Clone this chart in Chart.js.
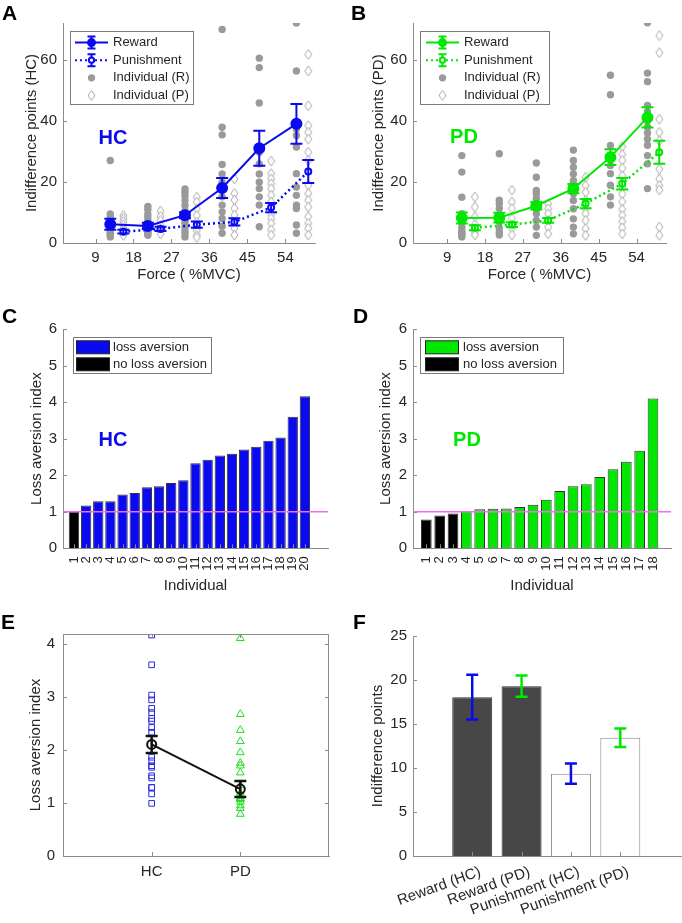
<!DOCTYPE html>
<html>
<head>
<meta charset="utf-8">
<script src="https://cdn.jsdelivr.net/npm/chart.js@4/dist/chart.umd.min.js"></script>
<style>
  body { margin: 0; background: #fff; }
  #fig { position: relative; width: 682px; height: 923px; overflow: hidden; }
  canvas { position: absolute; }
  .tag { position: absolute; font: bold 21px "Liberation Sans", Arial, sans-serif; line-height: 21px; color: #000; }
</style>
</head>
<body>
<div id="fig">
  <canvas id="cA" width="341" height="290" style="left:0;top:0"></canvas>
  <canvas id="cB" width="341" height="290" style="left:341px;top:0"></canvas>
  <canvas id="cC" width="341" height="310" style="left:0;top:290px"></canvas>
  <canvas id="cD" width="341" height="310" style="left:341px;top:290px"></canvas>
  <canvas id="cE" width="341" height="323" style="left:0;top:600px"></canvas>
  <canvas id="cF" width="341" height="323" style="left:341px;top:600px"></canvas>
  <div class="tag" style="left:2px;top:2px">A</div>
  <div class="tag" style="left:351px;top:2px">B</div>
  <div class="tag" style="left:2px;top:305px">C</div>
  <div class="tag" style="left:353px;top:305px">D</div>
  <div class="tag" style="left:1px;top:611px">E</div>
  <div class="tag" style="left:353px;top:611px">F</div>
</div>
<script>
// ---- data ----
const forceTicks = [9, 18, 27, 36, 45, 54];
const rewX = [12.5, 21.4, 30.2, 39.0, 47.8, 56.6];
const punX = [15.6, 24.4, 33.0, 41.9, 50.6, 59.4];

// panel A (HC)
const hcRewMean = [6.1, 5.6, 9.1, 18.0, 31.0, 39.0];
const hcRewErr  = [1.8, 1.0, 1.0, 3.3, 5.7, 6.5];
const hcPunMean = [3.7, 4.6, 6.0, 6.9, 11.6, 23.4];
const hcPunErr  = [0.6, 0.7, 1.0, 1.2, 1.5, 3.8];
const hcRewInd = [
  [27, 9.5, 8.5, 7.5, 7, 6.5, 6, 5.5, 5, 4.5, 4, 3.5, 3, 2.5, 2],
  [12, 11, 9.5, 8.5, 7.5, 6.5, 5.5, 5, 4.5, 4, 3.5, 3, 2.5],
  [17.7, 16.6, 15.5, 13.9, 12.3, 10.6, 9, 7.4, 6.5, 5.2, 4, 3, 2],
  [69.9, 37.9, 35.4, 25.7, 22.6, 19.9, 18.3, 15.1, 12.4, 10.2, 8, 5.5, 3.2],
  [60.5, 57.4, 45.8, 29.7, 25.9, 22.6, 19.9, 17.8, 15.1, 12.4, 5.3],
  [72, 56.3, 37.3, 35.2, 31.4, 22.7, 18.3, 15.6, 12.4, 11.3, 5.9, 3.2]
];
const hcPunInd = [
  [9, 8, 7, 6, 5, 4.5, 4, 3.5, 3, 2.5],
  [10.4, 8.7, 7.4, 5.8, 4.6, 4.1, 3],
  [15, 13.4, 11.2, 9, 6.8, 5, 4.1, 2.5, 1.8],
  [21, 16.2, 14.1, 11.3, 9.1, 6.9, 4.8, 2.6],
  [26.8, 22.7, 21, 19.4, 17.8, 15.6, 13.4, 11.6, 9.5, 8, 6.4, 4.3, 2.6],
  [61.7, 56.3, 44.9, 38.4, 36.2, 34, 29.7, 27, 18.9, 16.2, 14, 11.8, 8.6, 6.4, 4.8, 2.6]
];

// panel B (PD)
const pdRewMean = [8.2, 8.3, 12.2, 17.8, 28.1, 41.1];
const pdRewErr  = [1.8, 1.6, 1.2, 1.5, 2.6, 3.3];
const pdPunMean = [5.0, 6.0, 7.4, 12.9, 19.4, 29.7];
const pdPunErr  = [0.8, 0.8, 0.8, 1.5, 1.9, 3.8];
const pdRewInd = [
  [28.6, 23.2, 15, 9.6, 7.9, 6.8, 5.2, 4.1, 3.5, 3, 2.5, 2],
  [29.2, 14, 12.9, 11.3, 9.1, 6.9, 4.8, 3.5, 2.6],
  [26.2, 21.5, 17.2, 16.1, 14.5, 12.8, 11.2, 9.6, 7.4, 5.2, 2.5],
  [30.4, 27, 24.8, 22.6, 20.4, 18.3, 16.1, 13.9, 11.2, 7.9, 5.2, 3],
  [54.9, 48.5, 31.9, 28.6, 25.4, 22.7, 18.9, 15.1, 12.4],
  [72.1, 55.6, 52.8, 45, 43, 40, 38, 36, 34, 32, 28.6, 25.9, 17.8]
];
const pdPunInd = [
  [15.1, 11.8, 8.6, 6, 4.2, 3.5, 2.6],
  [17.3, 13.4, 11.3, 8, 6, 4.8, 2.6],
  [12.8, 11.2, 9.6, 7.4, 5.2, 3],
  [21.5, 18.8, 16.6, 13.9, 11.2, 9.6, 7.4, 4.7, 2.5],
  [31.5, 29, 27, 24.5, 22, 20, 18, 16, 13.5, 11, 9, 7, 5, 3],
  [67.9, 62.3, 40.5, 36.2, 33.5, 24.2, 21, 18.8, 17.4, 5.2, 2.5]
];

// panels C/D: loss aversion index per individual (sorted)
const hcLai = [0.99, 1.17, 1.29, 1.29, 1.47, 1.51, 1.67, 1.70, 1.79, 1.86,
               2.33, 2.42, 2.54, 2.59, 2.70, 2.78, 2.94, 3.03, 3.60, 4.16];
const pdLai = [0.79, 0.90, 0.95, 1.02, 1.07, 1.08, 1.09, 1.13, 1.19,
               1.33, 1.57, 1.70, 1.75, 1.95, 2.16, 2.37, 2.67, 4.10];
const laiTicks = [0, 1, 2, 3, 4, 5, 6];

// panel E
const eGroups = ['HC', 'PD'];
const eMean = [2.1, 1.26];
const eErr = [0.16, 0.15];
const eTicks = [0, 1, 2, 3, 4];

// panel F
const fLabels = ['Reward (HC)', 'Reward (PD)', 'Punishment (HC)', 'Punishment (PD)'];
const fMean = [18.05, 19.3, 9.35, 13.45];
const fErr = [2.55, 1.2, 1.15, 1.05];
const fTicks = [0, 5, 10, 15, 20, 25];

// ---- styling ----
const BLUE = '#0a0af0', GREEN = '#00e800', GRAY = '#9a9a9a', AXIS = '#8c8c8c', TXT = '#262626';
Chart.defaults.font.family = '"Liberation Sans", Arial, sans-serif';
Chart.defaults.font.size = 15;
Chart.defaults.color = TXT;
Chart.defaults.animation = false;
Chart.defaults.responsive = false;
Chart.defaults.plugins.legend.display = false;
Chart.defaults.plugins.tooltip.enabled = false;

// narrow open diamond used as point style (matlab 'd' marker)
function diamondMarker(w, h) {
  const c = document.createElement('canvas');
  c.width = w + 2; c.height = h + 2;
  const g = c.getContext('2d');
  const cx = c.width / 2, cy = c.height / 2;
  g.beginPath();
  g.moveTo(cx, 1); g.lineTo(cx + w / 2, cy); g.lineTo(cx, cy + h / 2); g.lineTo(cx - w / 2, cy); g.closePath();
  g.fillStyle = '#fff'; g.fill();
  g.strokeStyle = '#a8a8a8'; g.lineWidth = 1; g.stroke();
  return c;
}
const DIAMOND = diamondMarker(7, 10);

// error bars from dataset.errors
const errorBars = {
  id: 'errorBars',
  afterDatasetsDraw(chart) {
    const ctx = chart.ctx;
    chart.data.datasets.forEach((ds, i) => {
      if (!ds.errors) return;
      const meta = chart.getDatasetMeta(i);
      const ys = chart.scales[meta.yAxisID];
      meta.data.forEach((el, j) => {
        const d = ds.data[j];
        const v = typeof d === 'object' ? d.y : d;
        const e = ds.errors[j];
        const top = ys.getPixelForValue(v + e), bot = ys.getPixelForValue(v - e);
        const c = ds.capWidth / 2;
        ctx.save();
        ctx.strokeStyle = Array.isArray(ds.errorColor) ? ds.errorColor[j] : ds.errorColor;
        ctx.lineWidth = ds.errorWidth;
        ctx.beginPath();
        ctx.moveTo(el.x, top); ctx.lineTo(el.x, bot);
        ctx.moveTo(el.x - c, top); ctx.lineTo(el.x + c, top);
        ctx.moveTo(el.x - c, bot); ctx.lineTo(el.x + c, bot);
        ctx.stroke();
        ctx.restore();
      });
    });
  }
};

// inward matlab-like ticks, optional box
const matAxes = {
  id: 'matAxes',
  afterDatasetsDraw(chart, args, opts) {
    const ctx = chart.ctx, a = chart.chartArea, L = 4;
    const xs = chart.scales.x, ys = chart.scales.y;
    ctx.save();
    ctx.strokeStyle = AXIS; ctx.lineWidth = 1;
    ctx.beginPath();
    xs.ticks.forEach(t => {
      const p = Math.round(xs.getPixelForValue(t.value)) + 0.5;
      ctx.moveTo(p, a.bottom); ctx.lineTo(p, a.bottom - L);
      if (opts.box) { ctx.moveTo(p, a.top); ctx.lineTo(p, a.top + L); }
    });
    ys.ticks.forEach(t => {
      const p = Math.round(ys.getPixelForValue(t.value)) + 0.5;
      ctx.moveTo(a.left, p); ctx.lineTo(a.left + L, p);
      if (opts.box) { ctx.moveTo(a.right, p); ctx.lineTo(a.right - L, p); }
    });
    if (opts.box) {
      ctx.moveTo(a.left, a.top + 0.5); ctx.lineTo(a.right, a.top + 0.5);
      ctx.moveTo(a.right - 0.5, a.top); ctx.lineTo(a.right - 0.5, a.bottom);
    }
    ctx.stroke();
    ctx.restore();
  }
};

// boxed legend + in-plot label
const annot = {
  id: 'annot',
  afterDraw(chart, args, opts) {
    const ctx = chart.ctx;
    ctx.save();
    if (opts.note) {
      ctx.font = 'bold 20px "Liberation Sans", Arial, sans-serif';
      ctx.fillStyle = opts.note.color;
      ctx.textAlign = 'center'; ctx.textBaseline = 'middle';
      ctx.fillText(opts.note.text, opts.note.x, opts.note.y);
    }
    const lg = opts.legend;
    if (lg) {
      const [bx, by, bw, bh] = lg.box;
      ctx.fillStyle = '#fff'; ctx.fillRect(bx, by, bw, bh);
      ctx.strokeStyle = '#7a7a7a'; ctx.lineWidth = 1;
      ctx.strokeRect(bx + 0.5, by + 0.5, bw, bh);
      ctx.font = '13px "Liberation Sans", Arial, sans-serif';
      ctx.textBaseline = 'middle'; ctx.textAlign = 'left';
      lg.items.forEach((it, i) => {
        const y = by + lg.rowTop + i * lg.rowGap;
        const x0 = bx + lg.iconX, x1 = x0 + lg.iconW, xm = (x0 + x1) / 2;
        ctx.save();
        if (it.kind === 'line') {
          ctx.strokeStyle = it.color; ctx.lineWidth = 2;
          ctx.setLineDash(it.dash || []);
          ctx.beginPath(); ctx.moveTo(x0, y); ctx.lineTo(x1, y); ctx.stroke();
          ctx.setLineDash([]);
          ctx.beginPath();
          ctx.moveTo(xm, y - 6); ctx.lineTo(xm, y + 6);
          ctx.moveTo(xm - 4, y - 6); ctx.lineTo(xm + 4, y - 6);
          ctx.moveTo(xm - 4, y + 6); ctx.lineTo(xm + 4, y + 6);
          ctx.stroke();
          ctx.beginPath(); ctx.arc(xm, y, it.open ? 2.6 : 4.5, 0, Math.PI * 2);
          ctx.fillStyle = it.open ? '#fff' : it.color; ctx.fill();
          if (it.open) ctx.stroke();
        } else if (it.kind === 'dot') {
          ctx.fillStyle = GRAY;
          ctx.beginPath(); ctx.arc(xm, y, 3.6, 0, Math.PI * 2); ctx.fill();
        } else if (it.kind === 'diamond') {
          ctx.drawImage(DIAMOND, xm - DIAMOND.width / 2, y - DIAMOND.height / 2);
        } else if (it.kind === 'swatch') {
          ctx.fillStyle = it.color; ctx.fillRect(x0, y - 6.5, lg.iconW, 13);
          ctx.strokeStyle = '#222'; ctx.strokeRect(x0 + 0.5, y - 6.5, lg.iconW, 13);
        }
        ctx.restore();
        ctx.fillStyle = TXT;
        ctx.fillText(it.text, bx + lg.textX, y);
      });
    }
    ctx.restore();
  }
};
Chart.register(errorBars, matAxes, annot);

function axis(min, max, tickVals, fit, o) {
  return {
    type: 'linear', min: min, max: max, offset: false,
    grid: { display: false, drawTicks: false, offset: false },
    border: { display: true, color: AXIS, width: 1 },
    ticks: Object.assign({ padding: 6, autoSkip: false, color: TXT, font: { size: 15 } }, o.ticks || {}),
    title: o.title ? { display: true, text: o.title, color: TXT, font: { size: 15 }, padding: o.titlePad } : { display: false },
    afterBuildTicks: s => { s.ticks = tickVals.map(v => ({ value: v })); },
    afterFit: s => { if (s.isHorizontal()) s.height = fit; else s.width = fit; }
  };
}

function pts(xs, groups) {
  const out = [];
  groups.forEach((g, i) => g.forEach(v => out.push({ x: xs[i], y: v })));
  return out;
}
function xy(xs, ys) { return ys.map((v, i) => ({ x: xs[i], y: v })); }

// ---- A & B: indifference points vs force ----
function forcePanel(id, color, rM, rE, pM, pE, rInd, pInd, cfg) {
  new Chart(document.getElementById(id), {
    type: 'scatter',
    data: { datasets: [
      { data: xy(rewX, rM), showLine: true, borderColor: color, borderWidth: 2,
        pointRadius: 5, pointBackgroundColor: color, pointBorderColor: color,
        errors: rE, errorColor: color, errorWidth: 2, capWidth: 12 },
      { data: xy(punX, pM), showLine: true, borderColor: color, borderWidth: 2.5, borderDash: [2, 3],
        pointRadius: 3, pointBackgroundColor: '#fff', pointBorderColor: color, pointBorderWidth: 2,
        errors: pE, errorColor: color, errorWidth: 2, capWidth: 12 },
      { data: pts(rewX, rInd), pointRadius: 3.7, pointBackgroundColor: GRAY, pointBorderColor: GRAY, pointBorderWidth: 0 },
      { data: pts(punX, pInd), pointStyle: DIAMOND, pointRadius: 5 }
    ] },
    options: {
      layout: { padding: { top: 23, right: cfg.right, bottom: 0, left: 0 } },
      scales: {
        x: axis(cfg.xmin, 61, forceTicks, 47, { title: 'Force ( %MVC)', titlePad: { bottom: 6 } }),
        y: axis(0, 72, [0, 20, 40, 60], cfg.yw, { title: cfg.ytitle, titlePad: { top: cfg.tpad } })
      },
      plugins: {
        matAxes: {},
        annot: {
          note: cfg.note,
          legend: { box: cfg.lbox, rowTop: 11.6, rowGap: 17.6, iconX: cfg.iconX, iconW: 33, textX: cfg.textX,
            items: [
              { kind: 'line', color: color, text: 'Reward' },
              { kind: 'line', color: color, dash: [2, 3], open: true, text: 'Punishment' },
              { kind: 'dot', text: 'Individual (R)' },
              { kind: 'diamond', text: 'Individual (P)' }
            ] }
        }
      }
    }
  });
}

forcePanel('cA', BLUE, hcRewMean, hcRewErr, hcPunMean, hcPunErr, hcRewInd, hcPunInd, {
  right: 26, xmin: 1.3, yw: 63, tpad: 23, ytitle: 'Indifference points (HC)',
  note: { text: 'HC', color: BLUE, x: 113, y: 138 },
  lbox: [70, 31, 123, 73], iconX: 5, textX: 43
});
forcePanel('cB', GREEN, pdRewMean, pdRewErr, pdPunMean, pdPunErr, pdRewInd, pdPunInd, {
  right: 16, xmin: 0.9, yw: 72, tpad: 29, ytitle: 'Indifference points (PD)',
  note: { text: 'PD', color: GREEN, x: 123, y: 137 },
  lbox: [79, 31, 129, 73], iconX: 6, textX: 44
});

// ---- C & D: loss aversion index per individual ----
function laiPanel(id, color, vals, cfg) {
  const xs = vals.map((v, i) => i + 1);
  new Chart(document.getElementById(id), {
    type: 'bar',
    data: { datasets: [
      { type: 'line', data: [{ x: cfg.xmin, y: 1 }, { x: cfg.xmax, y: 1 }], borderColor: '#f070f0',
        borderWidth: 1.5, pointRadius: 0 },
      { data: xy(xs, vals), backgroundColor: vals.map(v => v < 1 ? '#000' : color),
        borderColor: '#333', borderWidth: 1, barPercentage: cfg.bp, categoryPercentage: 1 }
    ] },
    options: {
      layout: { padding: { top: 39, right: cfg.right, bottom: 0, left: 0 } },
      scales: {
        x: axis(cfg.xmin, cfg.xmax, xs, 51.7, { title: 'Individual', titlePad: { bottom: 5 },
          ticks: { padding: 8, minRotation: 90, maxRotation: 90, font: { size: 13 } } }),
        y: axis(0, 6, laiTicks, cfg.yw, { title: 'Loss aversion index', titlePad: { top: cfg.tpad } })
      },
      plugins: {
        matAxes: {},
        annot: {
          note: cfg.note,
          legend: { box: cfg.lbox, rowTop: 10.3, rowGap: 17, iconX: cfg.iconX, iconW: 33, textX: cfg.textX,
            items: [
              { kind: 'swatch', color: color, text: 'loss aversion' },
              { kind: 'swatch', color: '#000', text: 'no loss aversion' }
            ] }
        }
      }
    }
  });
}
laiPanel('cC', BLUE, hcLai, { xmin: 0.1, xmax: 21.9, right: 13, yw: 63, tpad: 28, bp: 0.85,
  note: { text: 'HC', color: BLUE, x: 113, y: 150 }, lbox: [73, 47, 138, 36], iconX: 3, textX: 40 });
laiPanel('cD', GREEN, pdLai, { xmin: 0, xmax: 19.35, right: 11, yw: 72, tpad: 36, bp: 0.8,
  note: { text: 'PD', color: GREEN, x: 126, y: 150 }, lbox: [79, 47, 143, 36], iconX: 5, textX: 43 });

// ---- E: group comparison ----
new Chart(document.getElementById('cE'), {
  type: 'scatter',
  data: { datasets: [
    { data: xy([1, 2], eMean), showLine: true, borderColor: '#111', borderWidth: 2,
      pointRadius: 4.5, pointBackgroundColor: 'rgba(0,0,0,0)', pointBorderColor: '#111', pointBorderWidth: 2,
      errors: eErr, errorColor: '#111', errorWidth: 2.5, capWidth: 12 },
    { data: hcLai.map(v => ({ x: 1, y: v })), pointStyle: 'rect', pointRadius: 4,
      pointBackgroundColor: 'rgba(0,0,0,0)', pointBorderColor: '#2a2ae0', pointBorderWidth: 1 },
    { data: pdLai.map(v => ({ x: 2, y: v })), pointStyle: 'triangle', pointRadius: 4.5,
      pointBackgroundColor: 'rgba(0,0,0,0)', pointBorderColor: '#22dd22', pointBorderWidth: 1 }
  ] },
  options: {
    layout: { padding: { top: 34, right: 12, bottom: 0, left: 0 } },
    scales: {
      x: axis(0, 3, [1, 2], 67, { ticks: { padding: 7, callback: v => eGroups[v - 1] } }),
      y: axis(0, 4.18, eTicks, 63, { title: 'Loss aversion index', titlePad: { top: 27 }, ticks: { padding: 8 } })
    },
    plugins: { matAxes: { box: true } }
  }
});

// ---- F: mean indifference points ----
new Chart(document.getElementById('cF'), {
  type: 'bar',
  data: { datasets: [
    { data: xy([1, 2, 3, 4], fMean), backgroundColor: ['#474747', '#474747', '#fff', '#fff'],
      borderColor: ['#333', '#333', '#888', '#888'], borderWidth: 1, barPercentage: 0.81, categoryPercentage: 1,
      errors: fErr, errorColor: [BLUE, GREEN, BLUE, GREEN], errorWidth: 2.5, capWidth: 12 }
  ] },
  options: {
    layout: { padding: { top: 36, right: 1, bottom: 0, left: 0 } },
    scales: {
      x: axis(-0.2, 5.23, [1, 2, 3, 4], 67, { ticks: { padding: 7, minRotation: 20, maxRotation: 20,
        labelOffset: 8, callback: v => fLabels[v - 1] } }),
      y: axis(0, 25, fTicks, 72, { title: 'Indifference points', titlePad: { top: 28 } })
    },
    plugins: { matAxes: {} }
  }
});
</script>
</body>
</html>
